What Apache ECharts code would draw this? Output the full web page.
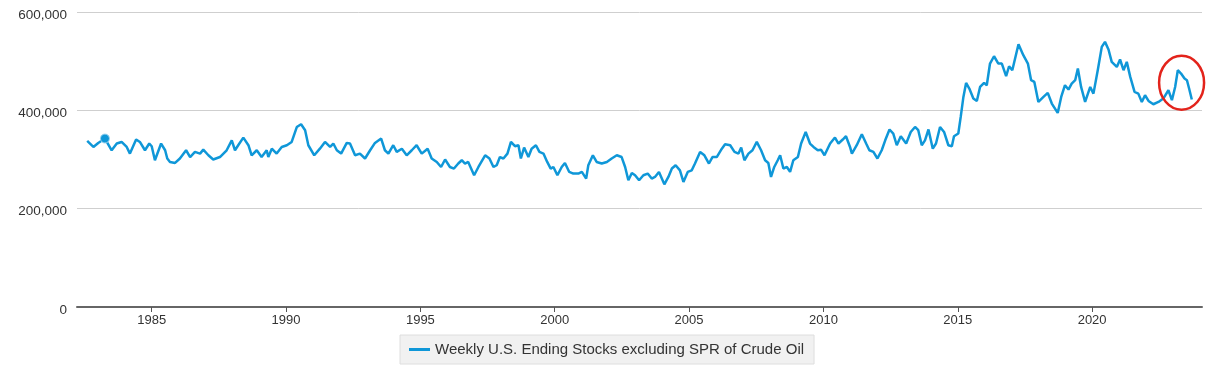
<!DOCTYPE html>
<html>
<head>
<meta charset="utf-8">
<script src="https://cdn.jsdelivr.net/npm/echarts@6/dist/echarts.min.js"></script>
<style>html,body{margin:0;padding:0;background:#fff}#c{width:1219px;height:368px}</style>
</head>
<body>
<div id="c"></div>
<script>
// decimal years (weekly series, sampled) and stocks in thousand barrels
const years = [
1982.60,1982.83,1983.01,1983.26,1983.51,1983.70,1983.88,1984.07,1984.19,1984.42,1984.56,1984.75,1984.91,
1985.00,1985.12,1985.35,1985.50,1985.58,1985.68,1985.87,1986.05,1986.28,1986.43,1986.61,1986.80,1986.92,
1987.11,1987.29,1987.54,1987.79,1987.98,1988.10,1988.22,1988.41,1988.60,1988.72,1988.91,1989.09,1989.28,
1989.34,1989.47,1989.65,1989.84,1990.03,1990.21,1990.40,1990.56,1990.71,1990.83,1991.05,1991.26,1991.45,
1991.64,1991.76,1991.89,1992.05,1992.26,1992.38,1992.57,1992.75,1992.94,1993.13,1993.31,1993.54,1993.68,
1993.81,1993.99,1994.12,1994.31,1994.49,1994.68,1994.86,1995.05,1995.27,1995.42,1995.61,1995.77,1995.92,
1996.10,1996.25,1996.41,1996.54,1996.66,1996.78,1997.00,1997.16,1997.41,1997.57,1997.72,1997.84,1997.96,
1998.09,1998.24,1998.37,1998.52,1998.65,1998.74,1998.86,1999.02,1999.14,1999.30,1999.43,1999.58,1999.72,
1999.85,1999.95,2000.10,2000.26,2000.38,2000.54,2000.69,2000.88,2001.01,2001.17,2001.25,2001.42,2001.56,
2001.75,2001.94,2002.12,2002.31,2002.49,2002.62,2002.74,2002.87,2002.99,2003.14,2003.30,2003.46,2003.61,
2003.73,2003.88,2004.08,2004.23,2004.36,2004.50,2004.66,2004.79,2004.95,2005.10,2005.22,2005.41,2005.57,
2005.74,2005.87,2006.03,2006.22,2006.34,2006.53,2006.69,2006.84,2006.94,2007.06,2007.21,2007.36,2007.52,
2007.68,2007.83,2007.95,2008.05,2008.17,2008.30,2008.39,2008.51,2008.64,2008.76,2008.88,2009.05,2009.17,
2009.34,2009.50,2009.63,2009.79,2009.91,2010.04,2010.25,2010.43,2010.56,2010.72,2010.84,2010.99,2011.06,
2011.24,2011.43,2011.59,2011.71,2011.86,2012.01,2012.17,2012.30,2012.46,2012.60,2012.73,2012.88,2013.08,
2013.25,2013.41,2013.53,2013.66,2013.78,2013.91,2014.07,2014.19,2014.34,2014.49,2014.65,2014.78,2014.86,
2015.02,2015.11,2015.21,2015.31,2015.43,2015.58,2015.71,2015.83,2015.98,2016.08,2016.20,2016.35,2016.51,
2016.64,2016.80,2016.91,2017.03,2017.26,2017.44,2017.61,2017.73,2017.85,2018.00,2018.19,2018.35,2018.50,
2018.72,2018.85,2018.99,2019.12,2019.24,2019.37,2019.47,2019.59,2019.74,2019.93,2020.05,2020.21,2020.36,
2020.48,2020.61,2020.73,2020.92,2021.04,2021.17,2021.29,2021.42,2021.58,2021.72,2021.85,2021.97,2022.10,
2022.28,2022.47,2022.65,2022.84,2022.97,2023.09,2023.19,2023.31,2023.44,2023.53,2023.61,2023.71
];
const stocks = [
337700,325500,333700,342600,318800,332500,335700,325500,312000,340600,335700,318800,332500,
327000,298500,332500,318800,302000,295000,293000,302000,318800,305000,315400,312000,320000,
308600,300000,305000,318800,339000,318800,329000,344600,329000,308600,318800,305000,318800,
305000,322000,312000,325500,329000,335700,366000,371700,359500,329000,308600,322000,335700,
325500,332500,318800,312000,333700,332500,308600,312000,302000,318800,333700,342600,318800,
312000,329000,315400,322000,308600,318800,329000,312000,322000,302000,295000,284800,300000,
284800,281600,291800,298500,291800,295000,268000,284800,308600,302000,284800,288300,305000,
302000,312000,335700,327000,329000,302000,324300,305000,322000,329000,315400,312000,295000,
281600,284800,268000,284800,293000,274700,271400,271400,274700,261200,288300,308600,295000,
291800,295000,302000,308600,305000,284800,257800,272600,268000,257800,268000,271400,261200,
264500,274700,249600,264500,281600,288300,278000,254300,274700,278000,291800,315400,308600,
291800,305000,305000,322000,331000,329000,315400,312000,324300,298500,312000,318800,335700,
318800,298500,293000,264500,284800,298500,308600,281600,284800,274700,298500,305000,332500,
356000,332500,325500,318800,320000,308600,332500,344600,332500,340600,347300,325500,312000,
329000,351400,332500,318800,315400,302000,318800,339000,361000,352800,329000,347300,332500,
356000,366200,359500,329000,339000,361000,322000,332500,366200,356000,329000,327000,347300,
352800,386600,427300,455800,444400,424000,419100,447600,455800,451100,495200,510000,495200,
495200,469400,489700,481600,534500,512100,495200,461300,457800,417100,427300,435400,413800,
394700,427300,451100,442300,454500,461300,485000,447600,417100,447600,434000,481600,529000,
539200,523700,498500,488300,503400,481600,498500,468000,437400,434000,417100,430700,419100,
412400,417100,424000,440900,420600,447600,481600,474900,464700,461300,444400,422000
];
const yearTicks = [1985, 1990, 1995, 2000, 2005, 2010, 2015, 2020];
const valueTicks = [0, 200000, 400000, 600000];
const seriesName = 'Weekly U.S. Ending Stocks excluding SPR of Crude Oil';
const highlightIndex = 3;
const circledPoint = [2023.33, 456200];

const FONT = "'Liberation Sans', Arial, sans-serif";
const BLUE = '#0f97d8';
const chart = echarts.init(document.getElementById('c'), null, {renderer: 'canvas'});
const points = years.map((y, i) => [y, stocks[i]]);

chart.setOption({
  animation: false,
  grid: {left: 77, right: 17, top: 12, bottom: 61, outerBoundsMode: 'none', containLabel: false},
  xAxis: {
    type: 'value',
    min: 1982.22,
    max: 2024.09,
    axisLine: {show: true, lineStyle: {color: '#666', width: 2}},
    axisTick: {show: true, customValues: yearTicks, length: 5, lineStyle: {color: '#555', width: 1}},
    axisLabel: {customValues: yearTicks, color: '#333', fontSize: 13, fontFamily: FONT, margin: 7,
      formatter: v => String(Math.round(v))},
    splitLine: {show: false}
  },
  yAxis: {
    type: 'value',
    min: 0,
    max: 600000,
    interval: 200000,
    axisLine: {show: false},
    axisTick: {show: false},
    axisLabel: {color: '#333', fontSize: 13.5, fontFamily: FONT, margin: 10, verticalAlign: 'top',
      padding: [-4, 0, 0, 0],
      formatter: v => v === 0 ? '0' : v.toLocaleString('en-US')},
    splitLine: {lineStyle: {color: '#cfcfcf', width: 1}}
  },
  legend: {
    data: [seriesName],
    left: 400,
    bottom: 4,
    padding: [7, 10, 7, 9],
    backgroundColor: '#f1f1f1',
    borderColor: '#dedede',
    borderWidth: 1,
    borderRadius: 0,
    icon: 'rect',
    itemWidth: 21,
    itemHeight: 3,
    textStyle: {color: '#333', fontSize: 15, fontFamily: FONT}
  },
  series: [{
    name: seriesName,
    type: 'line',
    data: points,
    symbol: 'none',
    color: BLUE,
    lineStyle: {color: BLUE, width: 2.5},
    markPoint: {
      silent: true,
      symbol: 'circle',
      symbolSize: 9,
      label: {show: false},
      itemStyle: {color: BLUE, borderColor: '#9fd3ee', borderWidth: 1},
      data: [{coord: [years[highlightIndex], stocks[highlightIndex]]}]
    }
  }]
});

const c = chart.convertToPixel({xAxisIndex: 0, yAxisIndex: 0}, circledPoint);
chart.setOption({
  graphic: [{
    type: 'ellipse',
    shape: {cx: c[0], cy: c[1], rx: 22.5, ry: 27},
    style: {fill: 'none', stroke: '#e3231b', lineWidth: 2.5},
    silent: true,
    z: 100
  }]
});
</script>
</body>
</html>
